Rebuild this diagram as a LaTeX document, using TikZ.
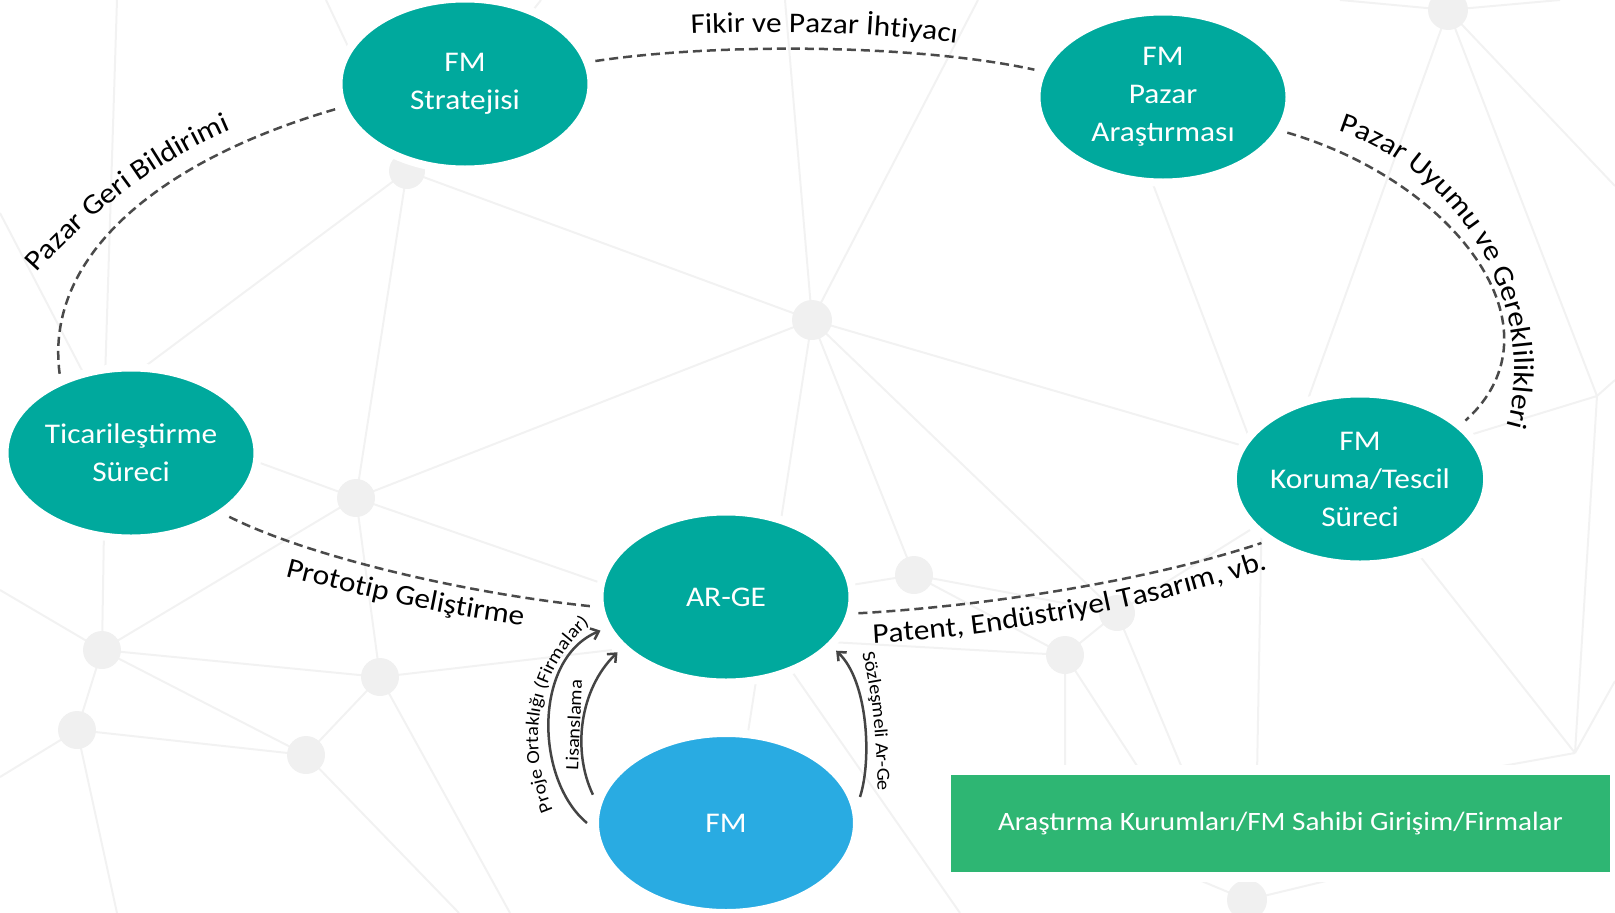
\documentclass[tikz,border=0pt]{standalone}
\usepackage{fontspec}
\setmainfont{Carlito}[FakeStretch=1.1]
\usetikzlibrary{shapes.geometric,decorations.text,arrows.meta}

\definecolor{tealfm}{HTML}{00A99D}
\definecolor{bluefm}{HTML}{29ABE2}
\definecolor{greenfm}{HTML}{2EB673}
\definecolor{dashgray}{HTML}{4A4A4A}
\definecolor{arrowgray}{HTML}{444444}
\definecolor{netgray}{HTML}{F2F2F2}
\definecolor{dotgray}{HTML}{F0F0F0}

\newcommand\nodefont{\fontsize{28.5}{38}\selectfont}
\newcommand\boxfont{\fontsize{26.5}{32}\selectfont}
\newcommand\lblfont{\fontsize{28.5}{34}\selectfont}
\newcommand\smallfont{\fontsize{18.5}{22}\selectfont}

\tikzset{
  fmnode/.style={ellipse, fill=tealfm, draw=white, line width=8pt,
    minimum width=253pt, minimum height=171pt, inner sep=0pt, outer sep=8pt,
    align=center, text=white, font=\nodefont},
  ownerbox/.style={rectangle, fill=greenfm, draw=white, line width=10pt,
    minimum width=669pt, minimum height=107pt, inner sep=0pt,
    text=white, font=\boxfont},
  flow/.style={draw=dashgray, line width=2.5pt, dash pattern=on 9pt off 5pt},
  link/.style={draw=arrowgray, line width=2.5pt},
  net/.style={draw=netgray, line width=2pt},
  curvetext/.style 2 args={decorate,
    decoration={text along path, text={|#1|#2}}},
}

\begin{document}
\begin{tikzpicture}[x=1pt, y=-1pt, >={Straight Barb[length=7pt,width=12pt]}]
	\useasboundingbox (0,0) rectangle (1615,913);

	% background network
	\draw[net] (812,320) -- (407,171) (812,320) -- (356,498)
	      (812,320) -- (914,575) (812,320) -- (1117,613)
	      (812,320) -- (1360,480) (812,320) -- (785,0)
	      (812,320) -- (978,0) (812,320) -- (720,913)
	      (407,171) -- (356,498) (407,171) -- (326,0)
	      (407,171) -- (541,0) (407,171) -- (120,385)
	      (356,498) -- (102,650) (356,498) -- (380,677)
	      (356,498) -- (200,441) (356,498) -- (650,600)
	      (102,650) -- (380,677) (102,650) -- (77,730)
	      (102,650) -- (306,755) (77,730) -- (306,755)
	      (380,677) -- (306,755) (380,677) -- (510,913)
	      (306,755) -- (459,913) (77,730) -- (117,913)
	      (102,650) -- (0,590) (77,730) -- (0,777)
	      (102,650) -- (104,530) (380,677) -- (612,650)
	      (117,0) -- (105,380) (0,213) -- (87,380)
	      (914,575) -- (1065,655) (914,575) -- (1117,613)
	      (914,575) -- (820,590) (1117,613) -- (1065,655)
	      (1117,613) -- (1250,530) (1117,613) -- (1185,775)
	      (1065,655) -- (1065,775) (1065,655) -- (1143,775)
	      (1065,655) -- (830,642) (770,640) -- (960,913)
	      (1448,10) -- (1307,402) (1448,10) -- (1597,396)
	      (1448,10) -- (1615,186) (1448,10) -- (1340,0)
	      (1448,10) -- (1560,0) (1597,396) -- (1473,434)
	      (1597,396) -- (1575,753) (1597,396) -- (1615,380)
	      (1140,150) -- (1250,440) (1360,480) -- (1575,753)
	      (1262,500) -- (1257,775) (1575,753) -- (1615,681)
	      (1575,753) -- (1480,770) (1247,900) -- (1180,872)
	      (1247,900) -- (1330,880);
	\fill[dotgray] (812,320) circle (20) (407,171) circle (18)
	      (356,498) circle (19) (914,575) circle (19)
	      (1117,613) circle (18) (1065,655) circle (19)
	      (102,650) circle (19) (380,677) circle (19)
	      (77,730) circle (19) (306,755) circle (19)
	      (1448,10) circle (20) (1247,900) circle (20);

	% stages
	\node[fmnode] (strat) at (465,84) {FM\\Stratejisi};
	\node[fmnode] (pazar) at (1163,97) {FM\\Pazar\\Araştırması};
	\node[fmnode] (ticari) at (131,453) {Ticarileştirme\\Süreci};
	\node[fmnode] (koruma) at (1360,479) {FM\\Koruma/Tescil\\Süreci};
	\node[fmnode] (arge) at (726,597) {AR-GE};
	\node[fmnode, fill=bluefm, minimum width=262pt, minimum height=180pt] (fm) at (726,823) {FM};
	\node[ownerbox] (sahip) at (1280.5,823.5) {Araştırma Kurumları/FM Sahibi Girişim/Firmalar};

	% cycle
	\draw[flow] (strat.10) .. controls +(120,-18) and +(-120,-26) .. (pazar.168);
	\draw[flow] (pazar.-16) .. controls +(167,49) and +(102,-92) .. (koruma.29);
	\draw[flow] (arge.-7) .. controls +(125,-7) and +(-113,38) .. (koruma.213);
	\draw[flow] (ticari.-33) .. controls +(80,40) and +(-127,-13) .. (arge.184);
	\draw[flow] (ticari.132) .. controls +(-16,-120) and +(-172,50) .. (strat.191);

	% FM to AR-GE
	\draw[link, ->] (fm.180) .. controls +(-52,-43) and +(-68,28) .. (arge.195);
	\draw[link, ->] (fm.168) .. controls +(-21,-44) and +(-38,37) .. (arge.207);
	\draw[link, <-] (arge.-26) .. controls +(32,30) and +(12,-37) .. (fm.11);

	% labels
	\path[curvetext={\lblfont}{Fikir ve Pazar İhtiyacı}] (691,34) .. controls (780,30) and (880,31) .. (985,47);
	\path[curvetext={\lblfont}{Pazar Uyumu ve Gereklilikleri}] (1338,131) .. controls (1460,170) and (1555,320) .. (1497,455);
	\path[curvetext={\lblfont}{Patent, Endüstriyel Tasarım, vb.}] (873,643) .. controls (1000,636) and (1150,610) .. (1300,558);
	\path[curvetext={\lblfont}{Prototip Geliştirme}] (285,576) .. controls (370,598) and (450,617) .. (545,628);
	\path[curvetext={\lblfont}{Pazar Geri Bildirimi}] (37,273) .. controls (80,225) and (150,160) .. (250,122);
	\path[curvetext={\smallfont}{Proje Ortaklığı (Firmalar)}] (553,810) .. controls (528,750) and (528,668) .. (603,613);
	\path[curvetext={\smallfont}{Lisanslama}] (578,770) -- (584,640);
	\path[curvetext={\smallfont}{Sözleşmeli Ar-Ge}] (862,653) .. controls (872,690) and (878,740) .. (878,820);
\end{tikzpicture}
\end{document}
